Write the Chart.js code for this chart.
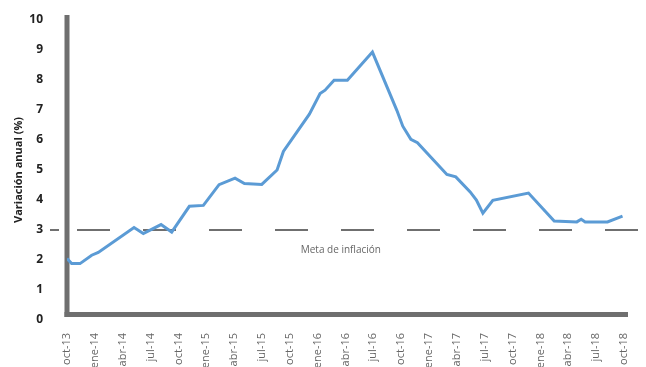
<!DOCTYPE html>
<html>
<head>
<meta charset="utf-8">
<script src="https://cdn.jsdelivr.net/npm/chart.js@4.4.0/dist/chart.umd.min.js"></script>
<style>
  body { margin: 0; background: #fff; }
  #wrap { width: 646px; height: 367px; }
</style>
</head>
<body>
<div id="wrap"><canvas id="inflChart" width="646" height="367"></canvas></div>
<script>
// months counted from oct-13 (0) to oct-18 (60)
const tickLabels = ['oct-13','ene-14','abr-14','jul-14','oct-14','ene-15','abr-15','jul-15','oct-15','ene-16','abr-16','jul-16','oct-16','ene-17','abr-17','jul-17','oct-17','ene-18','abr-18','jul-18','oct-18'];

const mesX = [0, 0.5, 1.4, 2.66, 3.37, 7.22, 8.22, 10.13, 11.28, 13.18, 14.69, 16.38, 18.1, 19.11, 20.98, 22.63, 23.31, 26.11, 27.26, 27.8, 28.77, 30.2, 32.9, 35.53, 36.17, 37.04, 37.75, 40.92, 41.88, 43.43, 44.1, 44.8, 45.87, 49.71, 52.48, 54.92, 55.39, 55.82, 58.22, 59.84];
const variacion = [2.05, 1.88, 1.88, 2.16, 2.25, 3.08, 2.88, 3.18, 2.93, 3.79, 3.82, 4.51, 4.73, 4.55, 4.52, 5.0, 5.62, 6.86, 7.55, 7.66, 7.99, 7.99, 8.93, 6.99, 6.46, 6.02, 5.91, 4.85, 4.77, 4.27, 4.0, 3.56, 3.99, 4.23, 3.30, 3.27, 3.36, 3.27, 3.27, 3.46];

const metaInflacion = 3;
const metaLabel = 'Meta de inflación';

const axisGray = '#6f6f6f';

function noPadding(scale) {
    scale.paddingTop = 0;
    scale.paddingBottom = 0;
    scale.paddingLeft = 0;
    scale.paddingRight = 0;
}

// axes, target line and its label
const extras = {
    id: 'extras',
    beforeDatasetsDraw(chart) {
        const ctx = chart.ctx;
        const a = chart.chartArea;
        const ys = chart.scales.y;
        const xs = chart.scales.x;
        ctx.save();
        // thick axis lines
        ctx.strokeStyle = axisGray;
        ctx.lineWidth = 5;
        ctx.beginPath();
        ctx.moveTo(a.left, a.top - 5);
        ctx.lineTo(a.left, a.bottom - 3);
        ctx.stroke();
        ctx.beginPath();
        ctx.moveTo(a.left - 2.5, a.bottom - 5.5);
        ctx.lineTo(a.right + 4, a.bottom - 5.5);
        ctx.stroke();

        // meta de inflacion
        const y = ys.getPixelForValue(metaInflacion);
        ctx.strokeStyle = '#404040';
        ctx.lineWidth = 1.5;
        ctx.beginPath();
        ctx.moveTo(a.left - 17, y);
        ctx.lineTo(a.left - 8, y);
        ctx.stroke();
        ctx.setLineDash([33, 33]);
        ctx.beginPath();
        ctx.moveTo(a.left + 10, y);
        ctx.lineTo(chart.width, y);
        ctx.stroke();
        ctx.setLineDash([]);

        ctx.fillStyle = '#666';
        ctx.font = '10px "Open Sans"';
        ctx.textAlign = 'center';
        ctx.textBaseline = 'middle';
        ctx.fillText(metaLabel, xs.getPixelForValue(29.5), y + 20);
        ctx.restore();
    }
};

const data = {
    datasets: [{
        label: 'Variación anual',
        data: mesX.map((m, i) => ({x: m, y: variacion[i]})),
        borderColor: '#5b9bd5',
        borderWidth: 3,
        pointRadius: 0,
        tension: 0,
        fill: false
    }]
};

const config = {
    type: 'line',
    data,
    options: {
        responsive: false,
        animation: false,
        layout: { padding: { top: 20, right: 22, left: 0, bottom: 0 } },
        plugins: {
            legend: { display: false },
            tooltip: { enabled: false }
        },
        scales: {
            x: {
                type: 'linear',
                min: 0,
                max: 60,
                afterFit(scale) { scale.height = 47; noPadding(scale); },
                grid: { display: false, drawTicks: false },
                border: { display: false },
                ticks: {
                    stepSize: 3,
                    autoSkip: false,
                    minRotation: 90,
                    maxRotation: 90,
                    padding: 13,
                    color: '#666',
                    font: { family: 'Open Sans', size: 11 },
                    callback: (v) => tickLabels[v / 3]
                }
            },
            y: {
                min: 0,
                max: 10,
                afterFit(scale) { scale.width = 67; noPadding(scale); },
                grid: { display: false, drawTicks: false },
                border: { display: false },
                ticks: {
                    stepSize: 1,
                    padding: 24,
                    color: '#222',
                    font: { family: 'Open Sans', size: 12, weight: 'bold' }
                },
                title: {
                    display: true,
                    text: 'Variación anual (%)',
                    color: '#222',
                    padding: { top: 12, bottom: 0 },
                    font: { family: 'Open Sans', size: 11, weight: 'bold' }
                }
            }
        }
    },
    plugins: [extras]
};

const inflChart = new Chart(document.getElementById('inflChart'), config);
</script>
</body>
</html>
